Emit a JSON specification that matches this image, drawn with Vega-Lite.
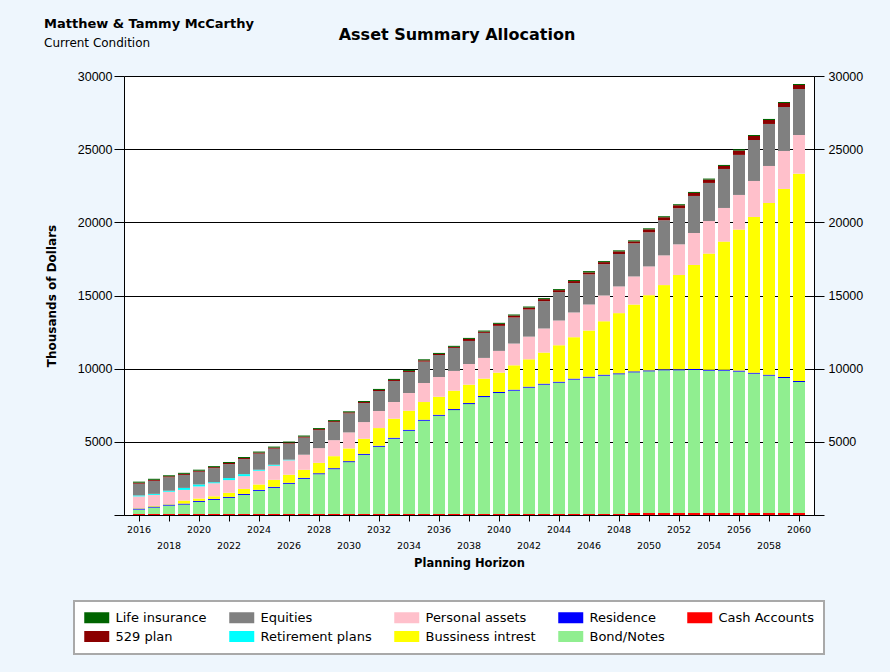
{
  "$schema": "https://vega.github.io/schema/vega-lite/v6.json",
  "width": 690,
  "height": 439,
  "autosize": {"type": "none"},
  "padding": {"left": 124, "top": 76, "right": 76, "bottom": 157},
  "background": "#EEF6FD",
  "view": {"fill": "#FFFFFF", "stroke": null},
  "title": {
    "text": "Matthew & Tammy McCarthy",
    "subtitle": "Current Condition",
    "anchor": "start",
    "frame": "group",
    "dx": -80,
    "offset": -23,
    "font": "DejaVu Sans",
    "fontSize": 13,
    "fontWeight": "bold",
    "color": "#000000",
    "subtitleFont": "DejaVu Sans",
    "subtitleFontSize": 12,
    "subtitleColor": "#000000",
    "subtitlePadding": 7
  },
  "datasets": {
    "cats": [
      {"k": "ca", "name": "Cash Accounts", "rank": 1},
      {"k": "bn", "name": "Bond/Notes", "rank": 2},
      {"k": "rs", "name": "Residence", "rank": 3},
      {"k": "bi", "name": "Bussiness intrest", "rank": 4},
      {"k": "pa", "name": "Personal assets", "rank": 5},
      {"k": "rp", "name": "Retirement plans", "rank": 6},
      {"k": "eq", "name": "Equities", "rank": 7},
      {"k": "p529", "name": "529 plan", "rank": 8},
      {"k": "li", "name": "Life insurance", "rank": 9}
    ],
    "assets": [
      {"year": 2016, "ca": 70, "bn": 300, "rs": 70, "bi": 30, "pa": 800, "rp": 70, "eq": 800, "p529": 70, "li": 70},
      {"year": 2017, "ca": 70, "bn": 435, "rs": 70, "bi": 45, "pa": 755, "rp": 70, "eq": 890, "p529": 70, "li": 70},
      {"year": 2018, "ca": 70, "bn": 570, "rs": 70, "bi": 30, "pa": 850, "rp": 70, "eq": 915, "p529": 70, "li": 70},
      {"year": 2019, "ca": 70, "bn": 640, "rs": 70, "bi": 205, "pa": 730, "rp": 137, "eq": 890, "p529": 70, "li": 70},
      {"year": 2020, "ca": 70, "bn": 825, "rs": 70, "bi": 160, "pa": 825, "rp": 137, "eq": 870, "p529": 70, "li": 70},
      {"year": 2021, "ca": 70, "bn": 960, "rs": 70, "bi": 180, "pa": 890, "rp": 70, "eq": 960, "p529": 70, "li": 70},
      {"year": 2022, "ca": 70, "bn": 1100, "rs": 70, "bi": 275, "pa": 870, "rp": 137, "eq": 960, "p529": 70, "li": 70},
      {"year": 2023, "ca": 70, "bn": 1300, "rs": 70, "bi": 345, "pa": 870, "rp": 137, "eq": 1030, "p529": 70, "li": 70},
      {"year": 2024, "ca": 70, "bn": 1580, "rs": 70, "bi": 365, "pa": 940, "rp": 70, "eq": 1100, "p529": 70, "li": 70},
      {"year": 2025, "ca": 70, "bn": 1785, "rs": 70, "bi": 480, "pa": 960, "rp": 70, "eq": 1100, "p529": 70, "li": 70},
      {"year": 2026, "ca": 70, "bn": 2060, "rs": 70, "bi": 550, "pa": 985, "rp": 45, "eq": 1100, "p529": 70, "li": 70},
      {"year": 2027, "ca": 70, "bn": 2400, "rs": 70, "bi": 550, "pa": 1030, "rp": 0, "eq": 1170, "p529": 70, "li": 70},
      {"year": 2028, "ca": 70, "bn": 2715, "rs": 70, "bi": 710, "pa": 1005, "rp": 0, "eq": 1230, "p529": 70, "li": 70},
      {"year": 2029, "ca": 70, "bn": 3060, "rs": 70, "bi": 820, "pa": 1095, "rp": 0, "eq": 1230, "p529": 70, "li": 70},
      {"year": 2030, "ca": 70, "bn": 3540, "rs": 70, "bi": 870, "pa": 1095, "rp": 0, "eq": 1300, "p529": 70, "li": 70},
      {"year": 2031, "ca": 70, "bn": 4040, "rs": 70, "bi": 1030, "pa": 1140, "rp": 0, "eq": 1300, "p529": 70, "li": 70},
      {"year": 2032, "ca": 70, "bn": 4590, "rs": 70, "bi": 1210, "pa": 1165, "rp": 0, "eq": 1370, "p529": 70, "li": 70},
      {"year": 2033, "ca": 70, "bn": 5140, "rs": 70, "bi": 1300, "pa": 1140, "rp": 0, "eq": 1440, "p529": 70, "li": 70},
      {"year": 2034, "ca": 70, "bn": 5685, "rs": 70, "bi": 1300, "pa": 1210, "rp": 0, "eq": 1440, "p529": 70, "li": 70},
      {"year": 2035, "ca": 70, "bn": 6370, "rs": 70, "bi": 1210, "pa": 1300, "rp": 0, "eq": 1460, "p529": 90, "li": 70},
      {"year": 2036, "ca": 70, "bn": 6710, "rs": 70, "bi": 1230, "pa": 1350, "rp": 0, "eq": 1505, "p529": 70, "li": 70},
      {"year": 2037, "ca": 70, "bn": 7100, "rs": 70, "bi": 1255, "pa": 1350, "rp": 0, "eq": 1575, "p529": 70, "li": 70},
      {"year": 2038, "ca": 70, "bn": 7510, "rs": 70, "bi": 1255, "pa": 1415, "rp": 0, "eq": 1575, "p529": 137, "li": 70},
      {"year": 2039, "ca": 70, "bn": 7990, "rs": 70, "bi": 1190, "pa": 1415, "rp": 0, "eq": 1710, "p529": 90, "li": 70},
      {"year": 2040, "ca": 70, "bn": 8265, "rs": 70, "bi": 1325, "pa": 1485, "rp": 0, "eq": 1710, "p529": 137, "li": 70},
      {"year": 2041, "ca": 70, "bn": 8425, "rs": 70, "bi": 1665, "pa": 1485, "rp": 0, "eq": 1780, "p529": 137, "li": 70},
      {"year": 2042, "ca": 70, "bn": 8630, "rs": 70, "bi": 1870, "pa": 1550, "rp": 0, "eq": 1850, "p529": 137, "li": 70},
      {"year": 2043, "ca": 70, "bn": 8835, "rs": 70, "bi": 2125, "pa": 1645, "rp": 0, "eq": 1870, "p529": 137, "li": 70},
      {"year": 2044, "ca": 70, "bn": 8970, "rs": 70, "bi": 2490, "pa": 1690, "rp": 0, "eq": 1940, "p529": 137, "li": 70},
      {"year": 2045, "ca": 70, "bn": 9180, "rs": 70, "bi": 2830, "pa": 1690, "rp": 0, "eq": 2010, "p529": 137, "li": 70},
      {"year": 2046, "ca": 70, "bn": 9315, "rs": 70, "bi": 3150, "pa": 1780, "rp": 0, "eq": 2055, "p529": 137, "li": 90},
      {"year": 2047, "ca": 70, "bn": 9450, "rs": 70, "bi": 3650, "pa": 1760, "rp": 0, "eq": 2145, "p529": 137, "li": 70},
      {"year": 2048, "ca": 70, "bn": 9545, "rs": 70, "bi": 4110, "pa": 1825, "rp": 0, "eq": 2215, "p529": 180, "li": 70},
      {"year": 2049, "ca": 137, "bn": 9610, "rs": 70, "bi": 4565, "pa": 1920, "rp": 0, "eq": 2260, "p529": 137, "li": 70},
      {"year": 2050, "ca": 137, "bn": 9680, "rs": 70, "bi": 5135, "pa": 1965, "rp": 0, "eq": 2330, "p529": 205, "li": 70},
      {"year": 2051, "ca": 137, "bn": 9750, "rs": 70, "bi": 5755, "pa": 2030, "rp": 0, "eq": 2400, "p529": 205, "li": 70},
      {"year": 2052, "ca": 137, "bn": 9750, "rs": 70, "bi": 6440, "pa": 2100, "rp": 0, "eq": 2465, "p529": 205, "li": 70},
      {"year": 2053, "ca": 137, "bn": 9770, "rs": 70, "bi": 7110, "pa": 2185, "rp": 0, "eq": 2530, "p529": 205, "li": 70},
      {"year": 2054, "ca": 137, "bn": 9725, "rs": 70, "bi": 7930, "pa": 2230, "rp": 0, "eq": 2600, "p529": 228, "li": 70},
      {"year": 2055, "ca": 137, "bn": 9725, "rs": 70, "bi": 8750, "pa": 2300, "rp": 0, "eq": 2665, "p529": 205, "li": 70},
      {"year": 2056, "ca": 137, "bn": 9660, "rs": 70, "bi": 9635, "pa": 2370, "rp": 0, "eq": 2735, "p529": 296, "li": 90},
      {"year": 2057, "ca": 137, "bn": 9520, "rs": 70, "bi": 10640, "pa": 2460, "rp": 0, "eq": 2800, "p529": 273, "li": 70},
      {"year": 2058, "ca": 137, "bn": 9385, "rs": 70, "bi": 11730, "pa": 2530, "rp": 0, "eq": 2870, "p529": 273, "li": 70},
      {"year": 2059, "ca": 137, "bn": 9225, "rs": 70, "bi": 12850, "pa": 2595, "rp": 0, "eq": 3005, "p529": 273, "li": 70},
      {"year": 2060, "ca": 137, "bn": 8950, "rs": 70, "bi": 14170, "pa": 2640, "rp": 0, "eq": 3145, "p529": 273, "li": 70}
    ]
  },
  "data": {"name": "assets"},
  "transform": [
    {"fold": ["ca", "bn", "rs", "bi", "pa", "rp", "eq", "p529", "li"], "as": ["k", "value"]},
    {"lookup": "k", "from": {"data": {"name": "cats"}, "key": "k", "fields": ["name", "rank"]}}
  ],
  "layer": [
    {
      "mark": {"type": "bar"},
      "encoding": {
        "x": {
          "field": "year",
          "type": "ordinal",
          "scale": {"paddingInner": 0.2, "paddingOuter": 0.6},
          "axis": {
            "orient": "bottom",
            "values": [2016, 2018, 2020, 2022, 2024, 2026, 2028, 2030, 2032, 2034, 2036, 2038, 2040, 2042, 2044, 2046, 2048, 2050, 2052, 2054, 2056, 2058, 2060],
            "title": "Planning Horizon",
            "labelAngle": 0,
            "labelFont": "DejaVu Sans",
            "labelFontSize": 9.5,
            "labelColor": "#000000",
            "labelExpr": "datum.value % 4 == 0 ? datum.label : ['', datum.label]",
            "labelLineHeight": 16,
            "labelBaseline": "top",
            "labelPadding": 3,
            "labelOverlap": false,
            "tickSize": 6,
            "tickColor": "#000000",
            "domainColor": "#000000",
            "grid": false,
            "titleFont": "DejaVu Sans",
            "titleFontSize": 11.5,
            "titleFontWeight": "bold",
            "titleColor": "#000000",
            "titlePadding": 8
          }
        },
        "y": {
          "field": "value",
          "type": "quantitative",
          "stack": "zero",
          "scale": {"domain": [0, 30000], "nice": false},
          "axis": {
            "orient": "left",
            "values": [0, 5000, 10000, 15000, 20000, 25000, 30000],
            "format": "d",
            "labelExpr": "datum.value == 0 ? '' : datum.label",
            "labelFont": "Liberation Sans",
            "labelFontSize": 12.5,
            "labelColor": "#000000",
            "labelPadding": 2,
            "tickSize": 10,
            "tickColor": "#000000",
            "domainColor": "#000000",
            "grid": true,
            "gridColor": "#000000",
            "gridOpacity": 1,
            "gridWidth": 1,
            "title": "Thousands of Dollars",
            "titleFont": "DejaVu Sans",
            "titleFontSize": 12,
            "titleFontWeight": "bold",
            "titleColor": "#000000",
            "titlePadding": 19
          }
        },
        "color": {
          "field": "name",
          "type": "nominal",
          "scale": {
            "domain": ["Life insurance", "Equities", "Personal assets", "Residence", "Cash Accounts", "529 plan", "Retirement plans", "Bussiness intrest", "Bond/Notes"],
            "range": ["#006400", "#808080", "#FFC0CB", "#0000FF", "#FF0000", "#8B0000", "#00FFFF", "#FFFF00", "#90EE90"]
          },
          "legend": {
            "orient": "none",
            "legendX": -50,
            "legendY": 525,
            "direction": "horizontal",
            "columns": 5,
            "title": null,
            "symbolType": "M-1,-0.88H3V0.88H-1Z",
            "symbolSize": 156.25,
            "symbolStrokeWidth": 0,
            "symbolOpacity": 1,
            "labelFont": "DejaVu Sans",
            "labelFontSize": 13,
            "labelColor": "#000000",
            "labelOffset": 18.5,
            "labelLimit": 300,
            "columnPadding": 22,
            "rowPadding": 5,
            "padding": 10,
            "fillColor": "#FFFFFF",
            "strokeColor": "#A9A9A9"
          }
        },
        "order": {"field": "rank", "type": "quantitative", "sort": "ascending"}
      }
    },
    {
      "mark": {"type": "bar", "opacity": 0},
      "encoding": {
        "x": {
          "field": "year",
          "type": "ordinal",
          "axis": {
            "orient": "top",
            "labels": false,
            "ticks": false,
            "domain": false,
            "grid": false,
            "title": "Asset Summary Allocation",
            "titleFont": "DejaVu Sans",
            "titleFontSize": 16,
            "titleFontWeight": "bold",
            "titleColor": "#000000",
            "titleX": 332.5,
            "titleY": -42,
            "titleAlign": "center",
            "titleBaseline": "middle"
          }
        },
        "y": {
          "aggregate": "sum",
          "field": "value",
          "type": "quantitative",
          "scale": {"domain": [0, 30000], "nice": false},
          "axis": {
            "orient": "right",
            "values": [0, 5000, 10000, 15000, 20000, 25000, 30000],
            "format": "d",
            "labelExpr": "datum.value == 0 ? '' : datum.label",
            "labelFont": "Liberation Sans",
            "labelFontSize": 12.5,
            "labelColor": "#000000",
            "labelPadding": 4,
            "tickSize": 10,
            "tickColor": "#000000",
            "domainColor": "#000000",
            "grid": false,
            "title": null
          }
        }
      }
    }
  ],
  "resolve": {"axis": {"x": "independent", "y": "independent"}},
  "config": {
    "legend": {"strokeWidth": 2}
  }
}
